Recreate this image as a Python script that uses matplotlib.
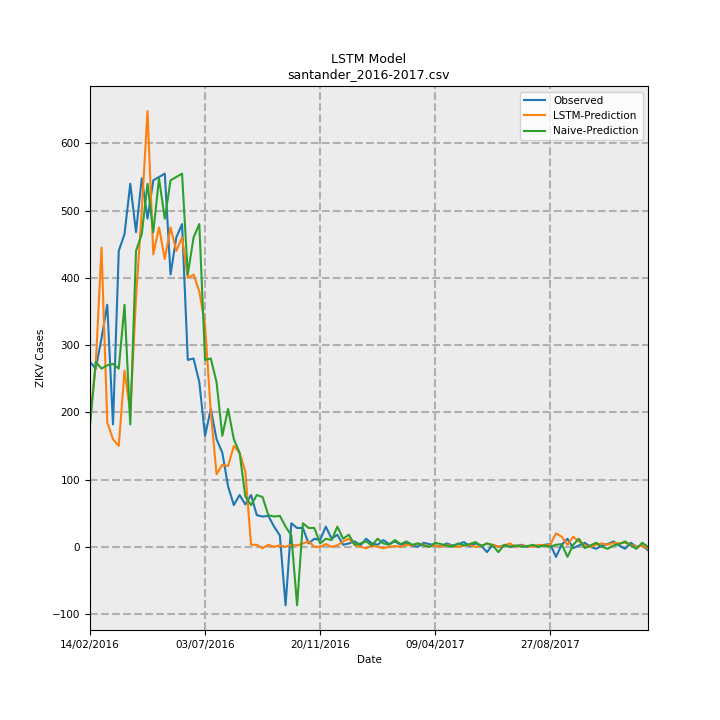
import matplotlib
matplotlib.use("Agg")
import matplotlib.pyplot as plt
import pandas as pd

plt.rcParams['font.size'] = 7.5

start = "2016-02-14"
observed = [275, 265, 310, 360, 182, 440, 465, 540, 468, 548, 488, 545, 550, 555, 405, 460, 480, 278,
            280, 245, 165, 205, 160, 140, 90, 62, 77, 63, 77, 47, 45, 46, 30, 17, -87, 35, 28, 28,
            5, 12, 10, 30, 12, 18, 3, 5, 8, 2, 12, 5, 3, 10, 4, 8, 3, 5, 2, 0, 6, 4, 2, 0, 5, 2,
            4, 7, 1, 5, 2, -8, 3, 0, 2, 0, 1, 3, 0, 2, 0, 3, 4, -15, 3, 12, -2, 2, 6, 0, -3,
            2, 4, 8, 2, -3, 6, 0, 2, -5]
naive = [180, 275, 265, 270, 272, 265, 360, 182, 440, 465, 540, 468, 548, 488, 545, 550, 555, 405,
         460, 480, 278, 280, 245, 165, 205, 160, 140, 75, 62, 77, 74, 47, 45, 46, 30, 17, -87, 35,
         28, 28, 5, 12, 10, 30, 12, 18, 3, 5, 8, 2, 12, 5, 3, 10, 4, 8, 3, 5, 2, 0, 6, 4, 2, 0, 5,
         2, 4, 7, 1, 5, 2, -8, 3, 0, 2, 0, 1, 3, 0, 2, 0, 3, 4, -15, 3, 12, -2, 2, 6, 0, -3,
         2, 4, 8, 2, -3, 6, 0]
lstm = [190, 270, 445, 185, 160, 150, 262, 200, 370, 500, 648, 435, 475, 428, 475, 440, 460, 400,
        405, 380, 330, 200, 108, 122, 120, 150, 140, 112, 3, 3, -2, 3, 0, 2, 0, 3, 2, 5, 8, 0, 0,
        4, 0, 2, 8, 12, 3, 0, -2, 2, 0, -2, 0, 1, 0, 3, 2, 5, 3, 0, 2, 0, 3, 1, 0, 2, 3, 0, 1, 5,
        3, 0, 2, 5, 0, 2, 1, 0, 3, 2, 3, 20, 15, 3, 15, 8, 2, 0, 3, 5, 3, 6, 5, 6, 3, 0, 2, -3]

n = min(len(observed), len(naive), len(lstm))
dates = pd.date_range(start, periods=n, freq="7D")

fig, ax = plt.subplots(figsize=(7.2, 7.2), dpi=100)
fig.subplots_adjust(left=0.125, right=0.9, top=0.88, bottom=0.125)
ax.set_facecolor("#ececec")
ax.plot(dates, observed[:n], label="Observed", color="#1f77b4")
ax.plot(dates, lstm[:n], label="LSTM-Prediction", color="#ff7f0e")
ax.plot(dates, naive[:n], label="Naive-Prediction", color="#2ca02c")
ticks = pd.date_range(start, periods=5, freq="140D")
ax.set_xticks(ticks)
ax.set_xticklabels([t.strftime("%d/%m/%Y") for t in ticks])
ax.set_xlim(dates[0], dates[-1])
ax.set_yticks([-100, 0, 100, 200, 300, 400, 500, 600])
ax.grid(True, color="#b0b0b0", linestyle="--", linewidth=1.5)
ax.set_xlabel("Date")
ax.set_ylabel("ZIKV Cases")
ax.set_title("LSTM Model\nsantander_2016-2017.csv", fontsize=9)
ax.legend(loc="upper right")
fig.savefig("out.png")
